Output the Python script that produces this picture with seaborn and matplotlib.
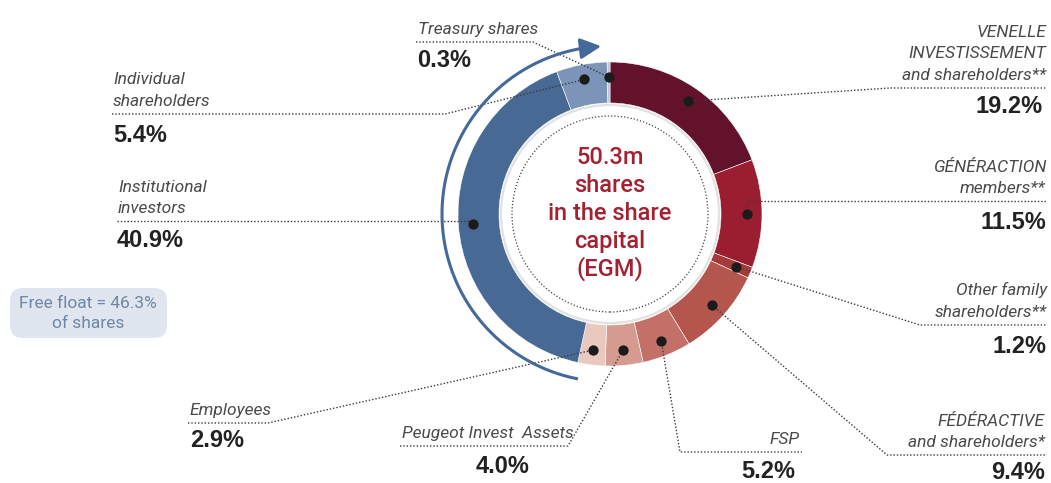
import matplotlib
matplotlib.use("Agg")
import matplotlib.pyplot as plt
import seaborn as sns
import numpy as np
from matplotlib.patches import FancyBboxPatch, Circle
from matplotlib import font_manager

# ---------------- data ----------------
labels = ["VENELLE\nINVESTISSEMENT\nand shareholders**", "GÉNÉRACTION\nmembers**",
          "Other family\nshareholders**", "FÉDÉRACTIVE\nand shareholders*", "FSP",
          "Peugeot Invest  Assets", "Employees", "Institutional\ninvestors",
          "Individual\nshareholders", "Treasury shares"]
shares = [19.2, 11.5, 1.2, 9.4, 5.2, 4.0, 2.9, 40.9, 5.4, 0.3]
colors = ["#63122c", "#9a1e30", "#a63a3b", "#b4564e", "#c37168", "#d59b90",
          "#e9c8c0", "#486993", "#7b94b7", "#b8c4d9"]
center_text = ["50.3m", "shares", "in the share", "capital", "(EGM)"]
free_float_text = ["Free float = 46.3%", "of shares"]

# ---------------- style ----------------
sns.set_theme(style="white")
names = {f.name for f in font_manager.fontManager.ttflist}
narrow = "Liberation Sans Narrow" if "Liberation Sans Narrow" in names else "Roboto"
plt.rcParams["font.family"] = [narrow, "DejaVu Sans"]

W, H = 1051, 483
fig = plt.figure(figsize=(W / 100, H / 100), dpi=100)
ax = fig.add_axes([0, 0, 1, 1])

def Y(y):
    return H - y

cx, cy = 610, Y(214)
R_OUT, RING_W = 152, 41

ax.pie(shares, colors=colors, startangle=90, counterclock=False,
       radius=R_OUT, center=(cx, cy),
       wedgeprops=dict(width=RING_W, edgecolor="white", linewidth=0.4))

# inner shadow edge and dotted circle
ax.add_patch(Circle((cx, cy), R_OUT - RING_W - 2, facecolor="white",
                    edgecolor="#e2e2e2", linewidth=1.6, zorder=3))
ax.add_patch(Circle((cx, cy), 98, facecolor="none", edgecolor="#444444",
                    linewidth=0.9, linestyle=(0, (1, 1.6)), zorder=4))

# centre text
line_y = [164, 192, 220, 248, 276]
for t, yy in zip(center_text, line_y):
    ax.text(cx, Y(yy), t, ha="center", va="baseline", fontsize=17,
            color="#a32131", family=["Roboto", "DejaVu Sans"],
            fontweight="medium", zorder=5)

# arrow around the ring (clockwise, over the left side)
R_ARROW = 168
a0, a1 = 191, 357
ang = np.linspace(a0, a1 - 5, 200)
th = np.deg2rad(90 - ang)
ax.plot(cx + R_ARROW * np.cos(th), cy + R_ARROW * np.sin(th),
        color="#44699a", lw=2.2, solid_capstyle="butt", zorder=2)
thA, thB = np.deg2rad(90 - (a1 - 7)), np.deg2rad(90 - a1)
ax.annotate("", xy=(cx + R_ARROW * np.cos(thB), cy + R_ARROW * np.sin(thB)),
            xytext=(cx + R_ARROW * np.cos(thA), cy + R_ARROW * np.sin(thA)),
            arrowprops=dict(arrowstyle="-|>,head_length=0.9,head_width=0.45",
                            color="#44699a", lw=2.2, mutation_scale=14,
                            shrinkA=0, shrinkB=0), zorder=2)

# dots at slice mid-angles
cum = np.cumsum(shares)
mid = (cum - np.array(shares) / 2) / 100 * 360
R_DOT = 137
dth = np.deg2rad(90 - mid)
dx = cx + R_DOT * np.cos(dth)
dy = cy + R_DOT * np.sin(dth)
ax.scatter(dx, dy, s=55, color="#1b1b1b", zorder=6, linewidths=0)

# label layout: text x, align, underline y, underline x0, x1, elbow side, value x, value align
layout = [
    (1046, "right", 88, 890, 1047, "left", 1043, "right"),
    (1046, "right", 201, None, 1047, "left", 1046, "right"),
    (1047, "right", 325, 920, 1047, "left", 1047, "right"),
    (1045, "right", 455, 887, 1047, "left", 1045, "right"),
    (800, "right", 452, 680, 802, "left", 795, "right"),
    (402, "left", 446, 400, 568, "right", 503, "center"),
    (190, "left", 423, 188, 268, "right", 190, "left"),
    (118, "left", 221, 117, None, "right", 117, "left"),
    (113, "left", 114, 112, 445, "right", 113, "left"),
    (418, "left", 42, 416, 533, "right", 417, "left"),
]
value_off = [25, 28, 28, 24, 26, 27, 24, 26, 28, 25]
dotted = dict(color="#3a3a3a", lw=1.0, linestyle=(0, (1, 1.4)), zorder=1)

for i, (lab, val) in enumerate(zip(labels, shares)):
    tx, ha, uy, ux0, ux1, side, vx, vha = layout[i]
    lines = lab.split("\n")
    n = len(lines)
    for k, ln in enumerate(lines):
        by = uy - 8 - (n - 1 - k) * 21.5
        ax.text(tx, Y(by), ln, ha=ha, va="baseline", fontsize=12.5,
                style="italic", color="#4a4a4a")
    ax.text(vx, Y(uy + value_off[i]), f"{val:.1f}%", ha=vha, va="baseline",
            fontsize=17, fontweight="bold", color="#222222",
            family=["Liberation Sans", "DejaVu Sans"])
    # underline + leader
    if side == "left":
        x0 = ux0 if ux0 is not None else dx[i]
        ax.plot([dx[i], x0, ux1], [dy[i], Y(uy), Y(uy)], **dotted)
    else:
        x1 = ux1 if ux1 is not None else dx[i]
        ax.plot([ux0, x1, dx[i]], [Y(uy), Y(uy), dy[i]], **dotted)

# free float box
ax.add_patch(FancyBboxPatch((10, Y(338)), 157, 50,
                            boxstyle="round,pad=0,rounding_size=13",
                            facecolor="#dfe6ef", edgecolor="none", zorder=1))
for t, yy in zip(free_float_text, [308, 328]):
    ax.text(88, Y(yy), t, ha="center", va="baseline", fontsize=12.5,
            color="#6f86a7", zorder=2)

ax.set_xlim(0, W)
ax.set_ylim(0, H)
ax.set_aspect("equal")
ax.axis("off")
fig.savefig("out.png", dpi=100, facecolor="white")
